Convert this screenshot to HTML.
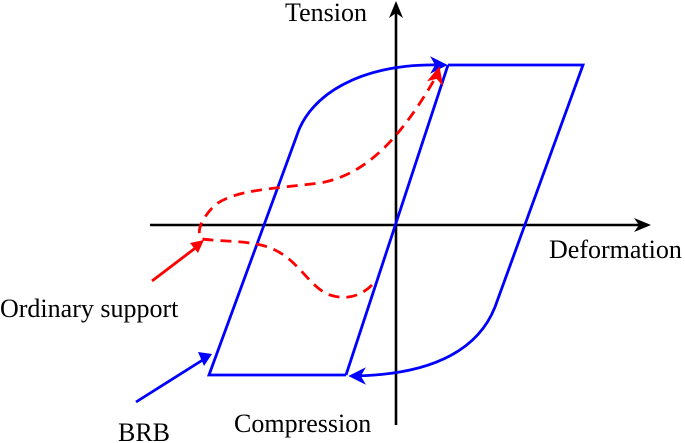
<!DOCTYPE html>
<html><head><meta charset="utf-8"><style>
html,body{margin:0;padding:0;background:#fff;}
svg{display:block;}
text{font-family:"Liberation Serif",serif;font-size:26px;fill:#000;}
</style></head><body>
<svg width="685" height="443" viewBox="0 0 685 443" xmlns="http://www.w3.org/2000/svg">
<!-- axes -->
<line x1="396" y1="425" x2="396" y2="4" stroke="#000" stroke-width="2.6"/>
<path d="M389,18 L396,1 L403,18 L396,13 Z" fill="#000"/>
<line x1="150" y1="225" x2="648" y2="225" stroke="#000" stroke-width="2.6"/>
<path d="M634,218 L651,225 L634,232 L639,225 Z" fill="#000"/>
<!-- blue loop -->
<g fill="none" stroke="#0000ff" stroke-width="2.8">
<path d="M448,65 L583,65 L495,307 C480,345 440,375 352,376"/>
<path d="M346,375 L209,375 L297,135 C310,95 360,63 442,65"/>
<line x1="346" y1="375" x2="448" y2="65"/>
<line x1="136" y1="402" x2="209" y2="356"/>
</g>
<path d="M432,58 L446,65 L432,72 L436,65 Z" fill="#0000ff" stroke="#0000ff" stroke-width="1.5"/>
<path d="M364,369 L350,376 L364,383 L360,376 Z" fill="#0000ff" stroke="#0000ff" stroke-width="1.5"/>
<path d="M198,352 L212,354 L204,366 Z" fill="#0000ff"/>
<!-- red -->
<path d="M372,285 C360,297 345,300 330,295 C310,288 300,262 275,250 C255,240 225,242 202,239 C196,233 200,220 215,205 C235,190 270,189 320,183 C365,175 400,140 437,75" fill="none" stroke="#ff0000" stroke-width="2.8" stroke-dasharray="11,7"/>
<path d="M429,80 L439,68 L442,84 L437,78 Z" fill="#ff0000" stroke="#ff0000" stroke-width="1.5"/>
<line x1="152" y1="281" x2="198" y2="246" stroke="#ff0000" stroke-width="2.8"/>
<path d="M190,243 L204,240 L198,253 Z" fill="#ff0000"/>
<!-- labels -->
<text x="285" y="21">Tension</text>
<text x="549" y="258">Deformation</text>
<text x="0" y="317">Ordinary support</text>
<text x="118" y="441">BRB</text>
<text x="234" y="432">Compression</text>
</svg>
</body></html>
